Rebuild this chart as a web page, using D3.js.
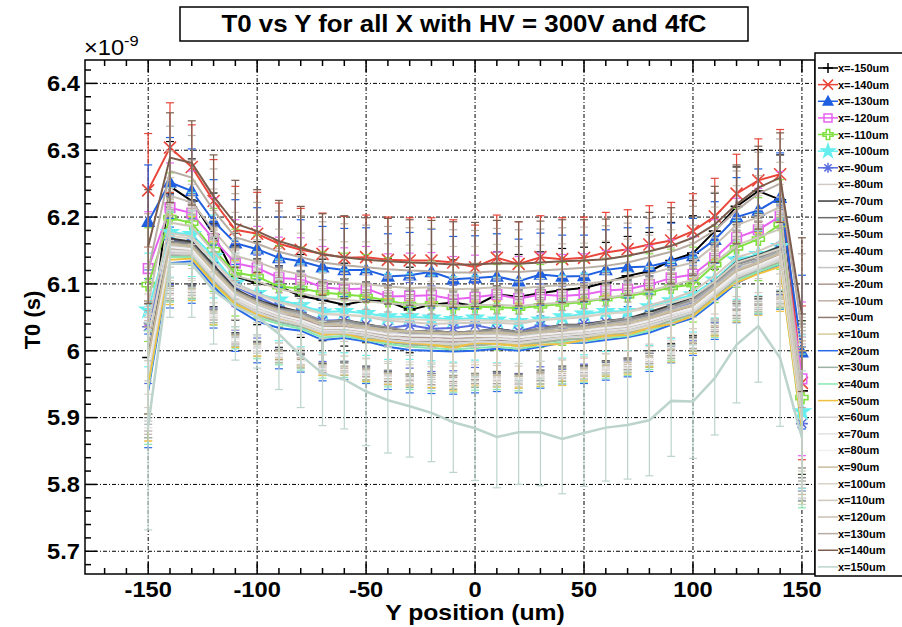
<!DOCTYPE html>
<html>
<head>
<meta charset="utf-8">
<script src="https://cdn.jsdelivr.net/npm/d3@7"></script>
<style>
body { margin: 0; background: #fff; }
text { font-family: "Liberation Sans", Arial, Helvetica, sans-serif; }
</style>
</head>
<body>
<script>
// Y positions (um) where T0 was measured
var yPositions = [-150,-140,-130,-120,-110,-100,-90,-80,-70,-60,-50,-40,-30,-20,-10,0,10,20,30,40,50,60,70,80,90,100,110,120,130,140,150];

// T0 (ns) for each X position
var t0_m150 = [5.990,6.246,6.224,6.174,6.111,6.101,6.096,6.082,6.076,6.069,6.075,6.074,6.061,6.069,6.072,6.067,6.084,6.081,6.086,6.091,6.094,6.102,6.112,6.119,6.135,6.146,6.179,6.216,6.239,6.226,5.940];
var t0_m140 = [6.240,6.304,6.275,6.224,6.181,6.175,6.160,6.151,6.145,6.139,6.140,6.136,6.135,6.135,6.132,6.125,6.139,6.130,6.140,6.137,6.139,6.147,6.152,6.159,6.165,6.179,6.201,6.235,6.255,6.264,5.952];
var t0_m130 = [6.193,6.252,6.239,6.194,6.161,6.152,6.139,6.134,6.125,6.121,6.121,6.111,6.113,6.118,6.107,6.109,6.111,6.104,6.114,6.111,6.112,6.121,6.125,6.126,6.134,6.142,6.166,6.200,6.210,6.229,5.998];
var t0_m120 = [6.123,6.214,6.206,6.167,6.131,6.124,6.109,6.107,6.095,6.092,6.093,6.081,6.082,6.083,6.077,6.080,6.084,6.078,6.084,6.082,6.084,6.090,6.092,6.099,6.109,6.114,6.139,6.169,6.181,6.201,5.958];
var t0_m110 = [6.099,6.199,6.191,6.151,6.117,6.111,6.096,6.093,6.087,6.084,6.081,6.075,6.069,6.070,6.065,6.066,6.065,6.064,6.067,6.070,6.073,6.078,6.082,6.087,6.095,6.099,6.129,6.154,6.167,6.189,5.930];
var t0_m100 = [6.061,6.177,6.174,6.141,6.101,6.086,6.076,6.068,6.058,6.059,6.056,6.051,6.051,6.049,6.047,6.049,6.046,6.044,6.046,6.051,6.055,6.059,6.059,6.066,6.075,6.084,6.106,6.136,6.144,6.156,5.909];
var t0_m90  = [6.036,6.166,6.161,6.126,6.096,6.081,6.066,6.057,6.045,6.046,6.039,6.034,6.038,6.033,6.034,6.038,6.032,6.029,6.038,6.034,6.041,6.043,6.044,6.054,6.064,6.071,6.099,6.121,6.132,6.151,5.891];
var t0_m80  = [6.000,6.176,6.171,6.134,6.101,6.086,6.073,6.066,6.055,6.054,6.051,6.045,6.043,6.040,6.041,6.042,6.042,6.040,6.046,6.048,6.050,6.056,6.058,6.068,6.077,6.089,6.112,6.140,6.149,6.163,5.935];
var t0_m70  = [5.990,6.168,6.163,6.128,6.092,6.076,6.066,6.058,6.042,6.046,6.040,6.033,6.029,6.030,6.027,6.029,6.033,6.028,6.033,6.039,6.039,6.045,6.048,6.058,6.068,6.079,6.104,6.133,6.143,6.156,5.930];
var t0_m60  = [5.985,6.164,6.161,6.124,6.090,6.074,6.063,6.056,6.041,6.044,6.037,6.031,6.026,6.027,6.024,6.026,6.030,6.025,6.030,6.036,6.037,6.043,6.046,6.054,6.066,6.076,6.101,6.130,6.140,6.153,5.925];
var t0_m50  = [5.980,6.163,6.159,6.124,6.090,6.075,6.063,6.058,6.043,6.046,6.039,6.035,6.029,6.030,6.027,6.029,6.032,6.028,6.033,6.038,6.038,6.044,6.048,6.054,6.066,6.077,6.101,6.129,6.139,6.152,5.920];
var t0_m40  = [5.975,6.160,6.157,6.122,6.087,6.072,6.061,6.055,6.040,6.043,6.036,6.032,6.026,6.027,6.024,6.026,6.029,6.025,6.030,6.035,6.035,6.040,6.045,6.051,6.063,6.074,6.098,6.126,6.136,6.149,5.915];
var t0_m30  = [5.970,6.157,6.155,6.118,6.085,6.069,6.057,6.052,6.038,6.039,6.033,6.029,6.023,6.024,6.021,6.023,6.026,6.022,6.027,6.031,6.032,6.037,6.042,6.048,6.060,6.070,6.095,6.122,6.133,6.146,5.910];
var t0_m20  = [5.965,6.153,6.152,6.115,6.082,6.066,6.054,6.049,6.035,6.036,6.030,6.026,6.020,6.021,6.018,6.020,6.023,6.019,6.024,6.028,6.029,6.034,6.038,6.045,6.057,6.067,6.092,6.119,6.130,6.143,5.905];
var t0_m10  = [5.960,6.150,6.150,6.112,6.078,6.062,6.051,6.046,6.032,6.033,6.028,6.022,6.018,6.017,6.015,6.018,6.020,6.016,6.021,6.025,6.026,6.031,6.035,6.042,6.054,6.064,6.089,6.116,6.127,6.140,5.900];
var t0_0    = [5.955,6.145,6.146,6.108,6.075,6.058,6.048,6.041,6.029,6.030,6.024,6.018,6.014,6.013,6.012,6.014,6.015,6.013,6.017,6.021,6.023,6.027,6.031,6.039,6.050,6.060,6.086,6.112,6.124,6.137,5.895];
var t0_p10  = [5.950,6.140,6.142,6.104,6.071,6.053,6.043,6.037,6.025,6.026,6.020,6.014,6.010,6.009,6.008,6.010,6.011,6.009,6.013,6.017,6.019,6.024,6.027,6.035,6.046,6.056,6.082,6.108,6.121,6.134,5.890];
var t0_p20  = [5.940,6.131,6.134,6.096,6.064,6.044,6.034,6.030,6.016,6.019,6.014,6.006,6.001,6.000,5.999,6.000,6.003,6.000,6.006,6.012,6.012,6.016,6.020,6.027,6.039,6.049,6.074,6.101,6.117,6.129,5.905];
var t0_p30  = [5.955,6.142,6.141,6.104,6.072,6.054,6.043,6.036,6.024,6.025,6.019,6.013,6.009,6.008,6.006,6.008,6.010,6.007,6.012,6.016,6.018,6.022,6.026,6.033,6.045,6.055,6.080,6.107,6.120,6.132,5.890];
var t0_p40  = [5.945,6.140,6.140,6.100,6.068,6.050,6.040,6.033,6.020,6.022,6.016,6.010,6.006,6.004,6.002,6.004,6.006,6.003,6.008,6.013,6.014,6.019,6.022,6.030,6.042,6.052,6.077,6.104,6.118,6.130,5.880];
var t0_p50  = [5.950,6.136,6.138,6.101,6.070,6.054,6.047,6.039,6.024,6.026,6.017,6.014,6.012,6.009,6.004,6.012,6.010,6.007,6.009,6.010,6.016,6.022,6.024,6.034,6.040,6.052,6.079,6.102,6.115,6.126,5.885];
var t0_p60  = [5.965,6.146,6.145,6.108,6.075,6.058,6.046,6.039,6.027,6.027,6.023,6.016,6.013,6.012,6.011,6.013,6.014,6.012,6.016,6.020,6.022,6.027,6.030,6.038,6.048,6.058,6.084,6.110,6.123,6.136,5.895];
var t0_p70  = [5.970,6.150,6.148,6.111,6.078,6.062,6.050,6.042,6.030,6.030,6.026,6.020,6.018,6.017,6.016,6.017,6.018,6.016,6.020,6.023,6.026,6.030,6.033,6.041,6.051,6.061,6.087,6.113,6.125,6.139,5.895];
var t0_p80  = [5.980,6.155,6.152,6.115,6.082,6.066,6.054,6.046,6.034,6.034,6.030,6.025,6.023,6.022,6.021,6.022,6.022,6.020,6.024,6.027,6.030,6.034,6.037,6.045,6.055,6.064,6.090,6.116,6.128,6.142,5.900];
var t0_p90  = [5.990,6.160,6.156,6.120,6.088,6.072,6.060,6.051,6.040,6.039,6.035,6.030,6.029,6.027,6.026,6.027,6.027,6.025,6.028,6.031,6.034,6.038,6.041,6.049,6.059,6.068,6.094,6.120,6.132,6.146,5.900];
var t0_p100 = [6.020,6.172,6.168,6.134,6.097,6.084,6.072,6.064,6.055,6.054,6.052,6.048,6.047,6.046,6.045,6.046,6.045,6.044,6.046,6.049,6.052,6.055,6.058,6.064,6.072,6.081,6.104,6.132,6.142,6.153,5.905];
var t0_p110 = [6.040,6.192,6.186,6.148,6.112,6.104,6.092,6.086,6.079,6.076,6.074,6.071,6.069,6.069,6.067,6.068,6.069,6.067,6.070,6.072,6.075,6.079,6.084,6.090,6.098,6.106,6.132,6.158,6.170,6.182,5.920];
var t0_p120 = [6.070,6.232,6.222,6.180,6.142,6.133,6.121,6.114,6.105,6.101,6.100,6.096,6.094,6.095,6.092,6.093,6.095,6.093,6.096,6.098,6.100,6.104,6.108,6.115,6.124,6.132,6.158,6.188,6.200,6.215,5.940];
var t0_p130 = [6.120,6.269,6.259,6.210,6.170,6.160,6.148,6.140,6.132,6.128,6.125,6.122,6.120,6.119,6.117,6.117,6.119,6.118,6.120,6.122,6.124,6.127,6.132,6.140,6.148,6.160,6.180,6.210,6.235,6.250,6.030];
var t0_p140 = [6.156,6.289,6.281,6.231,6.190,6.179,6.164,6.154,6.144,6.140,6.136,6.134,6.132,6.131,6.129,6.129,6.131,6.130,6.132,6.134,6.135,6.137,6.142,6.149,6.157,6.169,6.189,6.219,6.244,6.259,6.054];
var t0_p150 = [5.887,6.130,6.130,6.090,6.066,6.051,6.025,5.993,5.966,5.957,5.939,5.926,5.917,5.907,5.893,5.884,5.871,5.878,5.878,5.868,5.877,5.885,5.889,5.896,5.925,5.924,5.959,6.009,6.037,5.989,5.870];

// errors (ns): one profile shared by most scans, one for x=150um
var errCommon = [0.085,0.067,0.063,0.062,0.065,0.062,0.061,0.062,0.061,0.062,0.063,0.064,0.064,0.064,0.064,0.063,0.064,0.063,0.062,0.062,0.061,0.060,0.059,0.058,0.057,0.056,0.057,0.059,0.062,0.067,0.115];
var err150 = [0.155,0.080,0.080,0.080,0.080,0.077,0.083,0.078,0.078,0.074,0.081,0.079,0.076,0.073,0.075,0.078,0.076,0.078,0.080,0.082,0.080,0.080,0.081,0.083,0.083,0.085,0.085,0.087,0.084,0.102,0.100];

var seriesNames = ["x=-150um","x=-140um","x=-130um","x=-120um","x=-110um","x=-100um","x=-90um","x=-80um","x=-70um","x=-60um","x=-50um","x=-40um","x=-30um","x=-20um","x=-10um","x=0um","x=10um","x=20um","x=30um","x=40um","x=50um","x=60um","x=70um","x=80um","x=90um","x=100um","x=110um","x=120um","x=130um","x=140um","x=150um"];
var seriesValues = [t0_m150,t0_m140,t0_m130,t0_m120,t0_m110,t0_m100,t0_m90,t0_m80,t0_m70,t0_m60,t0_m50,t0_m40,t0_m30,t0_m20,t0_m10,t0_0,t0_p10,t0_p20,t0_p30,t0_p40,t0_p50,t0_p60,t0_p70,t0_p80,t0_p90,t0_p100,t0_p110,t0_p120,t0_p130,t0_p140,t0_p150];

var xTicks = [-150,-100,-50,0,50,100,150];
var yTicks = [5.7,5.8,5.9,6.0,6.1,6.2,6.3,6.4];

// styles
var colors = ["#000000","#e8463a","#1f5fe0","#e663f0","#80e040","#66eeee","#5b6ee0","#d2cac2","#3a3a3a","#6a6a6a","#8e8e8e","#adadad","#c6c6c6","#ad9890","#bfb0a8","#8e7c74","#d8cc98","#2a6ae8","#9cb2a4","#88e8b0","#f0c040","#d4d4d4","#e2e2e2","#f0f0f0","#c8bc9c","#d8d4c8","#ccc8bc","#c8c0b4","#b8ada4","#7a5c4c","#bcd4cc"];
var markers = ["plus","x","tri","square","ocross","star","aster"];

var width = 902, height = 627;
var L = 85, R = 815, T = 60, B = 574;
var SX = 1.1; // the picture's text is a little wide

var svg = d3.select("body").append("svg")
    .attr("width", width)
    .attr("height", height);

var x = d3.scaleLinear().domain([-179, 156]).range([L, R]);
var y = d3.scaleLinear().domain([5.666, 6.435]).range([B, T]);

// grid
var grid = svg.append("g").attr("stroke", "#000").attr("stroke-width", 1).attr("stroke-dasharray", "4,2,1,2");
grid.selectAll(".gx").data(xTicks).enter().append("line")
    .attr("x1", d => x(d)).attr("x2", d => x(d)).attr("y1", T).attr("y2", B);
grid.selectAll(".gy").data(yTicks).enter().append("line")
    .attr("y1", d => y(d)).attr("y2", d => y(d)).attr("x1", L).attr("x2", R);

function markerPath(type, s) {
    if (type == "plus") return "M" + (-s) + ",0H" + s + "M0," + (-s) + "V" + s;
    if (type == "x") return "M" + (-s) + "," + (-s) + "L" + s + "," + s + "M" + (-s) + "," + s + "L" + s + "," + (-s);
    if (type == "tri") return "M0," + (-s) + "L" + (s * 0.95) + "," + (s * 0.75) + "L" + (-s * 0.95) + "," + (s * 0.75) + "Z";
    if (type == "square") return "M" + (-s * 0.8) + "," + (-s * 0.8) + "h" + (s * 1.6) + "v" + (s * 1.6) + "h" + (-s * 1.6) + "Z";
    if (type == "ocross") {
        var a = s * 0.35;
        return "M" + (-a) + "," + (-s) + "H" + a + "V" + (-a) + "H" + s + "V" + a + "H" + a + "V" + s + "H" + (-a) + "V" + a + "H" + (-s) + "V" + (-a) + "H" + (-a) + "Z";
    }
    if (type == "star") return d3.symbol().type(d3.symbolStar).size(s * s * 2.2)();
    if (type == "aster") {
        var c = s * 0.72;
        return "M" + (-s) + ",0H" + s + "M0," + (-s) + "V" + s + "M" + (-c) + "," + (-c) + "L" + c + "," + c + "M" + (-c) + "," + c + "L" + c + "," + (-c);
    }
    return null;
}
function markerFill(type, col) {
    return (type == "tri" || type == "star") ? col : "none";
}

var plot = svg.append("g");
var line = d3.line().x((d, i) => x(yPositions[i])).y(d => y(d));

seriesValues.forEach(function(vals, k) {
    var col = colors[k];
    var errs = (k == 30) ? err150 : errCommon;
    var g = plot.append("g");
    var eb = g.selectAll(".eb").data(vals).enter().append("g")
        .attr("stroke", col).attr("stroke-width", 1.2);
    eb.append("line")
        .attr("x1", (d, i) => x(yPositions[i])).attr("x2", (d, i) => x(yPositions[i]))
        .attr("y1", (d, i) => y(d - errs[i])).attr("y2", (d, i) => y(d + errs[i]));
    eb.append("line")
        .attr("x1", (d, i) => x(yPositions[i]) - 4).attr("x2", (d, i) => x(yPositions[i]) + 4)
        .attr("y1", (d, i) => y(d + errs[i])).attr("y2", (d, i) => y(d + errs[i]));
    eb.append("line")
        .attr("x1", (d, i) => x(yPositions[i]) - 4).attr("x2", (d, i) => x(yPositions[i]) + 4)
        .attr("y1", (d, i) => y(d - errs[i])).attr("y2", (d, i) => y(d - errs[i]));
    g.append("path").datum(vals)
        .attr("d", line)
        .attr("fill", "none")
        .attr("stroke", col)
        .attr("stroke-width", k == 30 ? 2.5 : 2);
    if (k < markers.length) {
        g.selectAll(".mk").data(vals).enter().append("path")
            .attr("transform", (d, i) => "translate(" + x(yPositions[i]) + "," + y(d) + ")")
            .attr("d", markerPath(markers[k], 6))
            .attr("fill", markerFill(markers[k], col))
            .attr("stroke", col)
            .attr("stroke-width", 1.6);
    }
});

// frame and ticks
var axes = svg.append("g").attr("stroke", "#000").attr("stroke-width", 1.5);
axes.append("rect").attr("x", L).attr("y", T).attr("width", R - L).attr("height", B - T).attr("fill", "none");
var xMinor = d3.range(-170, 160, 10), yMinor = d3.range(5.68, 6.43, 0.02);
axes.selectAll(".xt").data(xMinor).enter().append("line")
    .attr("x1", d => x(d)).attr("x2", d => x(d))
    .attr("y1", B).attr("y2", d => B - (d % 50 == 0 ? 12 : 6));
axes.selectAll(".xtt").data(xMinor).enter().append("line")
    .attr("x1", d => x(d)).attr("x2", d => x(d))
    .attr("y1", T).attr("y2", d => T + (d % 50 == 0 ? 12 : 6));
axes.selectAll(".yt").data(yMinor).enter().append("line")
    .attr("y1", d => y(d)).attr("y2", d => y(d))
    .attr("x1", L).attr("x2", (d, i) => L + (i % 5 == 1 ? 12 : 6));

svg.selectAll(".xl").data(xTicks).enter().append("text")
    .attr("transform", d => "translate(" + x(d) + ",597) scale(" + SX + ",1)")
    .attr("text-anchor", "middle")
    .attr("font-size", 21.5).attr("font-weight", "bold")
    .text(d => d);
svg.selectAll(".yl").data(yTicks).enter().append("text")
    .attr("transform", d => "translate(80," + (y(d) + 7.8) + ") scale(" + SX + ",1)")
    .attr("text-anchor", "end")
    .attr("font-size", 21.5).attr("font-weight", "bold")
    .text(d => d3.format("~g")(d));

var exp = svg.append("text").attr("transform", "translate(84,55) scale(" + SX + ",1)").attr("font-size", 21.5);
exp.append("tspan").text("\u00d710");
exp.append("tspan").attr("dy", -9).attr("font-size", 15).text("-9");

svg.append("text")
    .attr("transform", "translate(475,620) scale(" + SX + ",1)")
    .attr("text-anchor", "middle")
    .attr("font-size", 22.5).attr("font-weight", "bold")
    .text("Y position (um)");
svg.append("text")
    .attr("transform", "translate(40,320) rotate(-90)")
    .attr("text-anchor", "middle")
    .attr("font-size", 22).attr("font-weight", "bold")
    .text("T0 (s)");

// title
svg.append("rect").attr("x", 180).attr("y", 7).attr("width", 568).attr("height", 34)
    .attr("fill", "#fff").attr("stroke", "#000").attr("stroke-width", 1.5);
svg.append("text")
    .attr("transform", "translate(464,32) scale(" + SX + ",1)")
    .attr("text-anchor", "middle")
    .attr("font-size", 23.5).attr("font-weight", "bold")
    .text("T0 vs Y for all X with HV = 300V and 4fC");

// legend
var leg = svg.append("g");
leg.append("rect").attr("x", 815).attr("y", 53).attr("width", 100).attr("height", 523)
    .attr("fill", "#fff").attr("stroke", "#000").attr("stroke-width", 1.5);
var items = leg.selectAll(".li").data(seriesNames).enter().append("g")
    .attr("transform", (d, i) => "translate(0," + (68 + i * 16.63) + ")");
items.append("line")
    .attr("x1", 818).attr("x2", 838).attr("y1", 0).attr("y2", 0)
    .attr("stroke", (d, i) => colors[i]).attr("stroke-width", 1.5);
items.filter((d, i) => i < markers.length).append("path")
    .attr("transform", "translate(828,0)")
    .attr("d", (d, i) => markerPath(markers[i], 5))
    .attr("fill", (d, i) => markerFill(markers[i], colors[i]))
    .attr("stroke", (d, i) => colors[i]).attr("stroke-width", 1.5);
items.append("text")
    .attr("transform", "translate(838,4) scale(1.05,1)")
    .attr("font-size", 10.5).attr("font-weight", "bold")
    .text(d => d);
</script>
</body>
</html>
